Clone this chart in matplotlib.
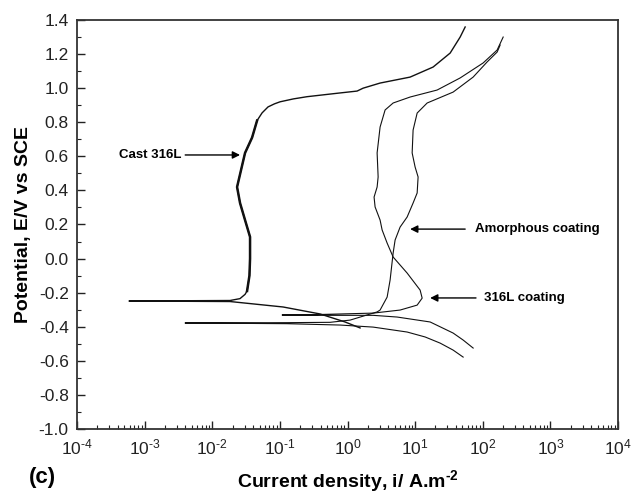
import numpy as np
import matplotlib
matplotlib.use("Agg")
import matplotlib.pyplot as plt
from matplotlib.ticker import LogLocator, MultipleLocator, FixedLocator, NullFormatter

plt.rcParams['font.family'] = ['Liberation Sans', 'DejaVu Sans']
plt.rcParams['mathtext.fontset'] = 'custom'
plt.rcParams['mathtext.rm'] = 'Liberation Sans'
plt.rcParams['mathtext.it'] = 'Liberation Sans:italic'
plt.rcParams['mathtext.bf'] = 'Liberation Sans:bold'
plt.rcParams['mathtext.default'] = 'regular'

# ---- data (log10 of current density in A/m^2, potential in V vs SCE) ----
cast_log_i = [0.186, -0.036, -0.405, -0.953, -1.737, -3.231, -1.737, -1.59, -1.515, -1.485,
              -1.45, -1.441, -1.441, -1.515, -1.589, -1.633, -1.574, -1.515, -1.411,
              -1.337, -1.263, -1.175, -1.08, -0.997, -0.8, -0.598, -0.154, 0.142, 0.231,
              0.482, 0.926, 1.266, 1.518, 1.666, 1.74]
cast_E = [-0.407, -0.372, -0.325, -0.284, -0.252, -0.249, -0.246, -0.235, -0.21, -0.19,
          -0.10, 0.0, 0.127, 0.226, 0.326, 0.42, 0.52, 0.62, 0.71,
          0.81, 0.855, 0.89, 0.908, 0.92, 0.937, 0.95, 0.97, 0.983, 1.0,
          1.03, 1.065, 1.124, 1.206, 1.30, 1.359]

coat316_log_i = [1.858, 1.71, 1.562, 1.222, 0.734, 0.379, -0.5, -0.967, -0.5, 0.379, 0.778,
                 1.03, 1.104, 1.074, 0.882, 0.675, 0.586, 0.512, 0.482, 0.408, 0.393,
                 0.438, 0.453, 0.438, 0.482, 0.556, 0.675, 0.926, 1.325, 1.666, 2.006,
                 2.213, 2.302]
coat316_E = [-0.525, -0.478, -0.437, -0.372, -0.343, -0.333, -0.333, -0.331, -0.329, -0.320,
             -0.302, -0.273, -0.232, -0.185, -0.085, 0.009, 0.091, 0.168, 0.226, 0.303,
             0.361, 0.42, 0.479, 0.62, 0.772, 0.872, 0.913, 0.948, 0.989, 1.06, 1.148,
             1.224, 1.30]

amorph_log_i = [1.71, 1.562, 1.37, 1.148, 0.882, 0.379, -0.109, -0.9, -2.402, -0.9, -0.257,
                0.038, 0.438, 0.482, 0.586, 0.63, 0.675, 0.704, 0.778, 0.882, 0.97, 1.03,
                1.044, 1.0, 0.956, 0.97, 1.03, 1.178, 1.562, 1.858, 2.065, 2.213, 2.257]
amorph_E = [-0.578, -0.537, -0.496, -0.46, -0.431, -0.402, -0.39, -0.382, -0.378, -0.376,
            -0.374, -0.361, -0.313, -0.302, -0.226, -0.126, 0.033, 0.109, 0.185, 0.244,
            0.326, 0.385, 0.479, 0.537, 0.62, 0.754, 0.854, 0.913, 0.977, 1.065, 1.154,
            1.212, 1.253]

x_exponents = [-4, -3, -2, -1, 0, 1, 2, 3, 4]
y_ticks = [-1.0, -0.8, -0.6, -0.4, -0.2, 0.0, 0.2, 0.4, 0.6, 0.8, 1.0, 1.2, 1.4]

fig = plt.figure(figsize=(6.34, 4.95), dpi=100)
ax = fig.add_axes([77/634, 1 - 429/495, (618-77)/634, (429-20)/495])

lc = '#111111'
cast_x = 10**np.array(cast_log_i)
ax.plot(cast_x, cast_E, color=lc, lw=1.0)
# noisy passive region of the cast alloy is drawn heavier
ax.plot(cast_x[9:20], cast_E[9:20], color=lc, lw=1.8)
ax.plot(10**np.array(coat316_log_i), coat316_E, color=lc, lw=0.8)
ax.plot(10**np.array(amorph_log_i), amorph_E, color=lc, lw=0.8)

ax.set_xscale('log')
ax.set_xlim(1e-4, 1e4)
ax.set_ylim(-1.0, 1.4)

ax.xaxis.set_major_locator(FixedLocator([10.0**e for e in x_exponents]))
ax.set_xticklabels([r'$10^{\text{%d}}$' % e for e in x_exponents])
ax.xaxis.set_minor_locator(LogLocator(base=10, subs=np.arange(2, 10), numticks=100))
ax.xaxis.set_minor_formatter(NullFormatter())
ax.set_yticks(y_ticks)
ax.set_yticklabels(['%.1f' % v for v in y_ticks])
ax.yaxis.set_minor_locator(MultipleLocator(0.1))

ax.tick_params(which='both', direction='in', top=False, right=False, colors='#222222')
ax.tick_params(which='major', length=6, width=1.0, labelsize=12.5, pad=6)
ax.tick_params(which='minor', length=3, width=0.8)
for s in ax.spines.values():
    s.set_linewidth(1.3)
    s.set_color('#333333')

ax.set_ylabel('Potential, E/V vs SCE', fontsize=14, fontweight='bold', labelpad=5)
ax.set_xlabel('Current density, i/ A.m$^{\\mathbf{\u2010 2}}$', fontsize=14, fontweight='bold', labelpad=8)

fig.text(42/634, 1 - 477/495, '(c)', fontsize=16, fontweight='bold', ha='center', va='center')

arrow_kw = dict(arrowstyle='-|>', color='black', lw=1.0, mutation_scale=11, shrinkA=0, shrinkB=0)
ax.annotate('', xy=(10**-1.589, 0.608), xytext=(10**-2.40, 0.608), arrowprops=arrow_kw)
ax.text(10**-2.46, 0.608, 'Cast 316L', fontsize=9.5, fontweight='bold', ha='right', va='center')
ax.annotate('', xy=(10**0.926, 0.173), xytext=(10**1.74, 0.173), arrowprops=arrow_kw)
ax.text(10**1.888, 0.173, 'Amorphous coating', fontsize=9.5, fontweight='bold', ha='left', va='center')
ax.annotate('', xy=(10**1.222, -0.231), xytext=(10**1.90, -0.231), arrowprops=arrow_kw)
ax.text(10**2.02, -0.231, '316L coating', fontsize=9.5, fontweight='bold', ha='left', va='center')

fig.savefig('out.png', dpi=100)
